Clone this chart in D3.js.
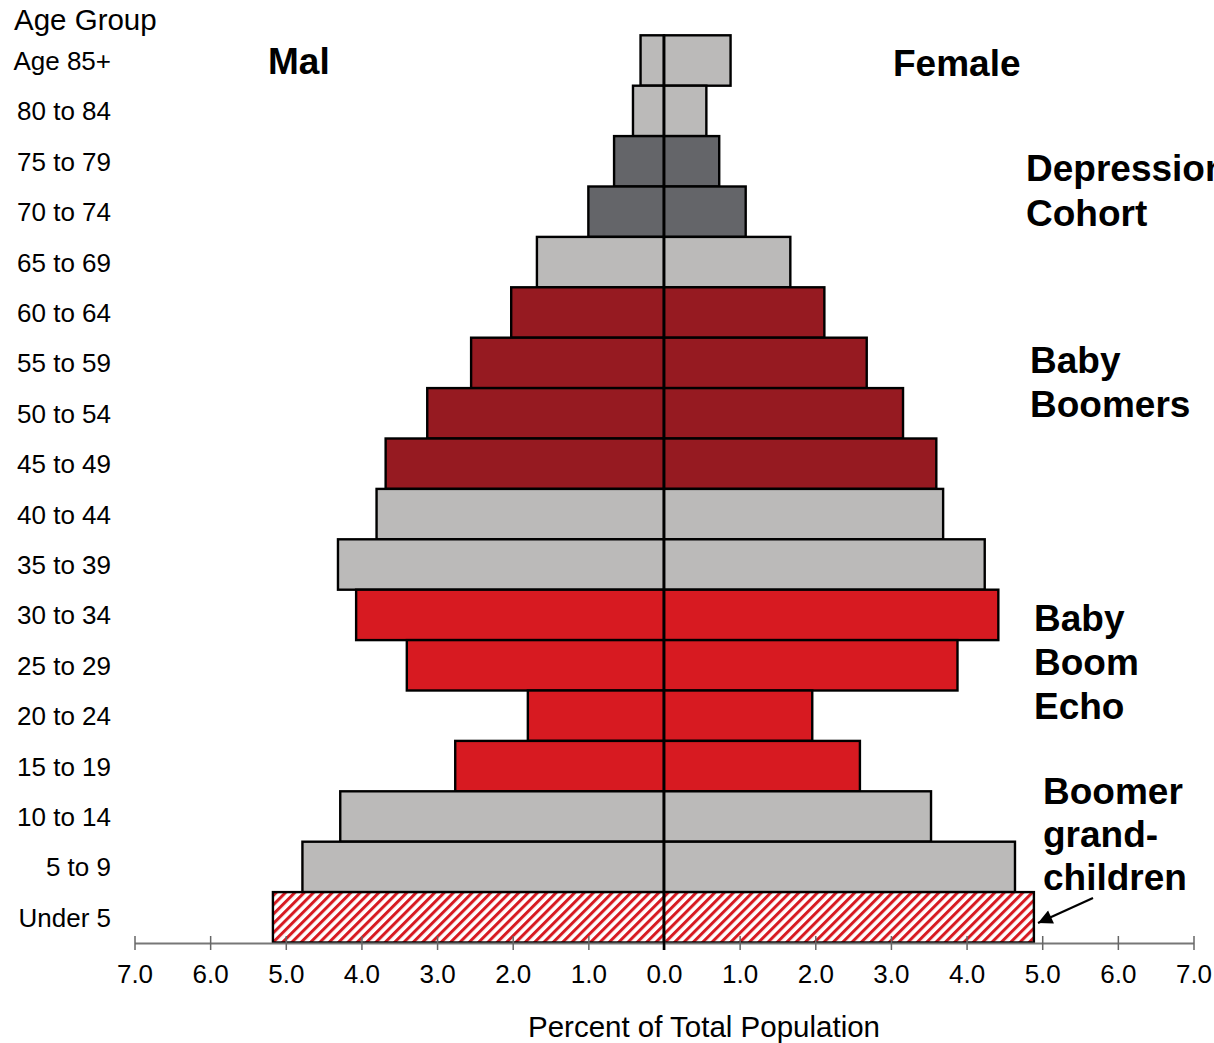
<!DOCTYPE html>
<html>
<head>
<meta charset="utf-8">
<script src="https://cdn.jsdelivr.net/npm/d3@7"></script>
<style>
  html, body { margin: 0; padding: 0; background: #fff; }
  svg { display: block; font-family: "Liberation Sans", Arial, sans-serif; }
</style>
</head>
<body>
<svg id="chart" width="1214" height="1043"></svg>
<script>
// Age groups, oldest at the top
const ageGroups = ["Age 85+", "80 to 84", "75 to 79", "70 to 74", "65 to 69", "60 to 64",
  "55 to 59", "50 to 54", "45 to 49", "40 to 44", "35 to 39", "30 to 34", "25 to 29",
  "20 to 24", "15 to 19", "10 to 14", "5 to 9", "Under 5"];

// Percent of total population by sex
const maleValues = [0.31, 0.41, 0.66, 1.00, 1.68, 2.02, 2.55, 3.13, 3.68, 3.80, 4.31, 4.07,
  3.40, 1.80, 2.76, 4.28, 4.78, 5.17];
const femaleValues = [0.88, 0.56, 0.73, 1.08, 1.67, 2.12, 2.68, 3.16, 3.60, 3.69, 4.24, 4.42,
  3.88, 1.96, 2.59, 3.53, 4.64, 4.89];

// Cohort each age group belongs to
const cohorts = ["other", "other", "depression", "depression", "other", "boomers",
  "boomers", "boomers", "boomers", "other", "other", "echo", "echo",
  "echo", "echo", "other", "other", "grandchildren"];

const tickValues = [-7, -6, -5, -4, -3, -2, -1, 0, 1, 2, 3, 4, 5, 6, 7];

const cohortLabels = [
  { lines: ["Depression", "Cohort"], x: 1026, y: 181, step: 45 },
  { lines: ["Baby", "Boomers"], x: 1030, y: 373, step: 44 },
  { lines: ["Baby", "Boom", "Echo"], x: 1034, y: 631, step: 44 },
  { lines: ["Boomer", "grand-", "children"], x: 1043, y: 804, step: 43 }
];

const svg = d3.select("#chart");

const defs = svg.append("defs");
const hatch = defs.append("pattern")
  .attr("id", "hatch")
  .attr("patternUnits", "userSpaceOnUse")
  .attr("width", 6.6).attr("height", 6.6)
  .attr("patternTransform", "rotate(45)");
hatch.append("rect").attr("width", 6.6).attr("height", 6.6).attr("fill", "#ffffff");
hatch.append("rect").attr("width", 3).attr("height", 6.6).attr("fill", "#d71a21");

defs.append("marker")
  .attr("id", "arrowHead")
  .attr("viewBox", "0 0 10 10")
  .attr("refX", 10).attr("refY", 5)
  .attr("markerWidth", 7.5).attr("markerHeight", 6.5)
  .attr("markerUnits", "strokeWidth")
  .attr("orient", "auto")
  .append("path").attr("d", "M0,0 L10,5 L0,10 Z").attr("fill", "#000");

const fills = {
  other: "#bbbab9",
  depression: "#646569",
  boomers: "#961a21",
  echo: "#d71a21",
  grandchildren: "url(#hatch)"
};

const x = d3.scaleLinear().domain([-7, 7]).range([134.5, 1193.5]);
const y = d3.scaleBand().domain(ageGroups).range([35.3, 942.5]).padding(0);

const rows = ageGroups.map((age, i) => ({
  age, male: maleValues[i], female: femaleValues[i], cohort: cohorts[i]
}));

// Male bars (left)
svg.append("g").selectAll("rect")
  .data(rows).join("rect")
  .attr("x", d => x(-d.male))
  .attr("y", d => y(d.age))
  .attr("width", d => x(0) - x(-d.male))
  .attr("height", y.bandwidth())
  .attr("fill", d => fills[d.cohort])
  .attr("stroke", "#000").attr("stroke-width", 2.4);

// Female bars (right)
svg.append("g").selectAll("rect")
  .data(rows).join("rect")
  .attr("x", x(0))
  .attr("y", d => y(d.age))
  .attr("width", d => x(d.female) - x(0))
  .attr("height", y.bandwidth())
  .attr("fill", d => fills[d.cohort])
  .attr("stroke", "#000").attr("stroke-width", 2.4);

// Horizontal axis
const axisY = 943;
const xAxis = svg.append("g")
  .attr("transform", `translate(0,${axisY})`)
  .call(d3.axisBottom(x).tickValues(tickValues).tickSize(7).tickSizeOuter(0)
    .tickFormat(d => Math.abs(d).toFixed(1)));
xAxis.select(".domain").attr("stroke", "#777").attr("stroke-width", 2);
xAxis.selectAll(".tick line").attr("y1", -7).attr("y2", 7).attr("stroke", "#666").attr("stroke-width", 1.5);
xAxis.selectAll(".tick text")
  .attr("y", 40).attr("dy", 0)
  .attr("fill", "#000")
  .attr("font-size", 26)
  .attr("font-family", "Liberation Sans, Arial, sans-serif");

// Centre line
svg.append("line")
  .attr("x1", x(0)).attr("x2", x(0))
  .attr("y1", y.range()[0]).attr("y2", 950)
  .attr("stroke", "#000").attr("stroke-width", 2.6);

// Age group labels
svg.append("g").selectAll("text")
  .data(ageGroups).join("text")
  .attr("x", 111)
  .attr("y", d => y(d) + y.bandwidth() / 2 + 9.5)
  .attr("text-anchor", "end")
  .attr("font-size", 26)
  .text(d => d);

svg.append("text").attr("x", 14).attr("y", 30).attr("font-size", 29.5).text("Age Group");

// Axis title
svg.append("text").attr("x", 704).attr("y", 1037).attr("text-anchor", "middle")
  .attr("font-size", 29.5).text("Percent of Total Population");

// Sex headings
svg.append("text").attr("x", 268).attr("y", 74).attr("font-size", 37)
  .attr("font-weight", "bold").text("Mal");
svg.append("text").attr("x", 893).attr("y", 76).attr("font-size", 37)
  .attr("font-weight", "bold").text("Female");

// Cohort annotations
cohortLabels.forEach(c => {
  const t = svg.append("text").attr("font-size", 37).attr("font-weight", "bold");
  c.lines.forEach((line, i) => {
    t.append("tspan").attr("x", c.x).attr("y", c.y + i * c.step).text(line);
  });
});

// Arrow pointing to the youngest group
svg.append("line")
  .attr("x1", 1093).attr("y1", 898)
  .attr("x2", 1038).attr("y2", 923)
  .attr("stroke", "#000").attr("stroke-width", 2.2)
  .attr("marker-end", "url(#arrowHead)");
</script>
</body>
</html>
